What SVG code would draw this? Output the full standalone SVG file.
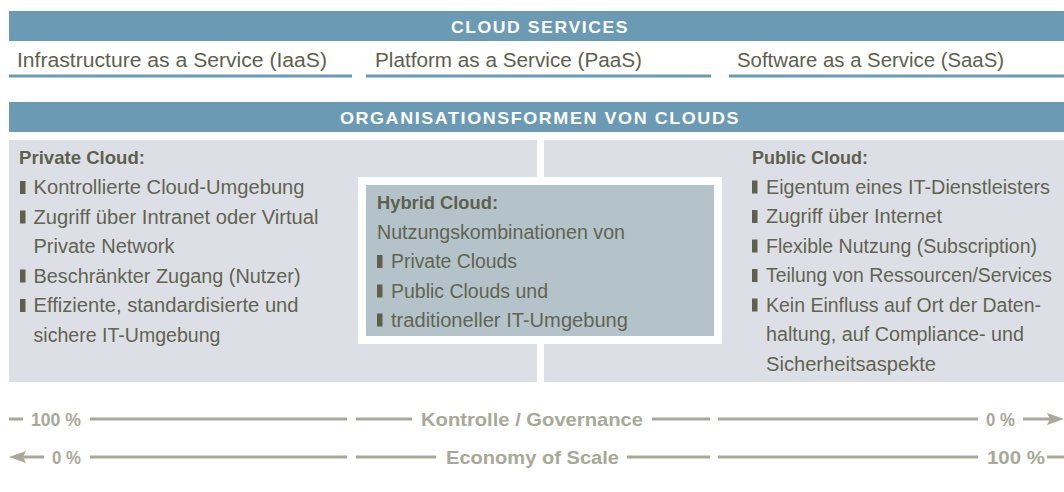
<svg xmlns="http://www.w3.org/2000/svg" width="1064" height="492" viewBox="0 0 1064 492">
<defs>
<style>
.bar{fill:#6a9ab4}
.uline{fill:#6a9ab4}
.ttl{font-family:"Liberation Sans",Arial,sans-serif;font-weight:bold;font-size:17px;fill:#ffffff;letter-spacing:1.5px}
.sub{font-family:"Liberation Sans",Arial,sans-serif;font-size:20.5px;fill:#5f604c}
.txt{font-family:"Liberation Sans",Arial,sans-serif;font-size:19.5px;fill:#626350}
.hd{font-family:"Liberation Sans",Arial,sans-serif;font-size:18.5px;font-weight:bold;fill:#5f604c}
.panel{fill:#dce0e6}
.hyb{fill:#b4c3ca;stroke:#ffffff;stroke-width:8}
.blt{fill:#5f604c}
.axl{stroke:#a8a998;stroke-width:3;fill:none}
.axt{font-family:"Liberation Sans",Arial,sans-serif;font-size:18.5px;font-weight:bold;fill:#a8a998}
.arr{fill:#a8a998}
</style>
</defs>
<rect width="1064" height="492" fill="#ffffff"/>

<g id="cloud-services">
<rect class="bar" x="9" y="11" width="1055" height="30"/>
<text class="ttl" x="540" y="33" text-anchor="middle" textLength="178" lengthAdjust="spacingAndGlyphs">CLOUD SERVICES</text>
</g>
<g id="iaas">
<text class="sub" x="17" y="67" textLength="310" lengthAdjust="spacingAndGlyphs">Infrastructure as a Service (IaaS)</text>
<rect class="uline" x="9" y="74.5" width="343" height="3"/>
</g>
<g id="paas">
<text class="sub" x="375" y="67" textLength="267" lengthAdjust="spacingAndGlyphs">Platform as a Service (PaaS)</text>
<rect class="uline" x="366" y="74.5" width="345" height="3"/>
</g>
<g id="saas">
<text class="sub" x="737" y="67" textLength="267" lengthAdjust="spacingAndGlyphs">Software as a Service (SaaS)</text>
<rect class="uline" x="729" y="74.5" width="335" height="3"/>
</g>

<g id="organisationsformen">
<rect class="bar" x="9" y="102" width="1055" height="30"/>
<text class="ttl" x="540" y="124" text-anchor="middle" textLength="400" lengthAdjust="spacingAndGlyphs">ORGANISATIONSFORMEN VON CLOUDS</text>
</g>

<g id="private-cloud">
<rect class="panel" x="9" y="140" width="528" height="242"/>
<text class="hd" x="19" y="164" textLength="126" lengthAdjust="spacingAndGlyphs">Private Cloud:</text>
<rect class="blt" x="20" y="181" width="5.5" height="13"/>
<text class="txt" x="33.5" y="194" textLength="271" lengthAdjust="spacingAndGlyphs">Kontrollierte Cloud-Umgebung</text>
<rect class="blt" x="20" y="210.5" width="5.5" height="13"/>
<text class="txt" x="33.5" y="223.5" textLength="285" lengthAdjust="spacingAndGlyphs">Zugriff über Intranet oder Virtual</text>
<text class="txt" x="33.5" y="253" textLength="141" lengthAdjust="spacingAndGlyphs">Private Network</text>
<rect class="blt" x="20" y="269.5" width="5.5" height="13"/>
<text class="txt" x="33.5" y="282.5" textLength="267" lengthAdjust="spacingAndGlyphs">Beschränkter Zugang (Nutzer)</text>
<rect class="blt" x="20" y="299" width="5.5" height="13"/>
<text class="txt" x="33.5" y="312" textLength="265" lengthAdjust="spacingAndGlyphs">Effiziente, standardisierte und</text>
<text class="txt" x="33.5" y="341.5" textLength="187" lengthAdjust="spacingAndGlyphs">sichere IT-Umgebung</text>
</g>

<g id="public-cloud">
<rect class="panel" x="544" y="140" width="520" height="242"/>
<text class="hd" x="752" y="164" textLength="116" lengthAdjust="spacingAndGlyphs">Public Cloud:</text>
<rect class="blt" x="752" y="180.5" width="5.5" height="13"/>
<text class="txt" x="766" y="193.5" textLength="284" lengthAdjust="spacingAndGlyphs">Eigentum eines IT-Dienstleisters</text>
<rect class="blt" x="752" y="210" width="5.5" height="13"/>
<text class="txt" x="766" y="223" textLength="176" lengthAdjust="spacingAndGlyphs">Zugriff über Internet</text>
<rect class="blt" x="752" y="239.5" width="5.5" height="13"/>
<text class="txt" x="766" y="252.5" textLength="271" lengthAdjust="spacingAndGlyphs">Flexible Nutzung (Subscription)</text>
<rect class="blt" x="752" y="269" width="5.5" height="13"/>
<text class="txt" x="766" y="282" textLength="286" lengthAdjust="spacingAndGlyphs">Teilung von Ressourcen/Services</text>
<rect class="blt" x="752" y="298.5" width="5.5" height="13"/>
<text class="txt" x="766" y="311.5" textLength="275" lengthAdjust="spacingAndGlyphs">Kein Einfluss auf Ort der Daten-</text>
<text class="txt" x="766" y="341" textLength="258" lengthAdjust="spacingAndGlyphs">haltung, auf Compliance- und</text>
<text class="txt" x="766" y="370.5" textLength="170" lengthAdjust="spacingAndGlyphs">Sicherheitsaspekte</text>
</g>

<g id="hybrid-cloud">
<rect class="hyb" x="362" y="181" width="356" height="159"/>
<text class="hd" x="377" y="209" textLength="121" lengthAdjust="spacingAndGlyphs">Hybrid Cloud:</text>
<text class="txt" x="377" y="239" textLength="248" lengthAdjust="spacingAndGlyphs">Nutzungskombinationen von</text>
<rect class="blt" x="377" y="255" width="5.5" height="13"/>
<text class="txt" x="391" y="268" textLength="126" lengthAdjust="spacingAndGlyphs">Private Clouds</text>
<rect class="blt" x="377" y="284.5" width="5.5" height="13"/>
<text class="txt" x="391" y="297.5" textLength="157" lengthAdjust="spacingAndGlyphs">Public Clouds und</text>
<rect class="blt" x="377" y="313.5" width="5.5" height="13"/>
<text class="txt" x="391" y="326.5" textLength="237" lengthAdjust="spacingAndGlyphs">traditioneller IT-Umgebung</text>
</g>

<g id="connectors">
<g id="axis-kontrolle">
<line class="axl" x1="9" y1="419" x2="23" y2="419"/>
<line class="axl" x1="90" y1="419" x2="347" y2="419"/>
<line class="axl" x1="356" y1="419" x2="412" y2="419"/>
<line class="axl" x1="652" y1="419" x2="710" y2="419"/>
<line class="axl" x1="718" y1="419" x2="978" y2="419"/>
<line class="axl" x1="1023" y1="419" x2="1052" y2="419"/>
<polygon class="arr" points="1064,419 1047,413 1050,419 1047,425"/>
</g>
<g id="axis-economy">
<polygon class="arr" points="9,457 26,451 23,457 26,463"/>
<line class="axl" x1="22" y1="457" x2="44" y2="457"/>
<line class="axl" x1="90" y1="457" x2="347" y2="457"/>
<line class="axl" x1="356" y1="457" x2="436" y2="457"/>
<line class="axl" x1="627" y1="457" x2="710" y2="457"/>
<line class="axl" x1="718" y1="457" x2="978" y2="457"/>
<line class="axl" x1="1047" y1="457" x2="1064" y2="457"/>
</g>
</g>

<g id="labels-axis">
<text class="axt" x="31" y="426" textLength="50" lengthAdjust="spacingAndGlyphs">100 %</text>
<text class="axt" x="421" y="426" textLength="222" lengthAdjust="spacingAndGlyphs">Kontrolle / Governance</text>
<text class="axt" x="986" y="426" textLength="29" lengthAdjust="spacingAndGlyphs">0 %</text>
<text class="axt" x="52" y="464" textLength="29" lengthAdjust="spacingAndGlyphs">0 %</text>
<text class="axt" x="446" y="464" textLength="173" lengthAdjust="spacingAndGlyphs">Economy of Scale</text>
<text class="axt" x="987" y="464" textLength="58" lengthAdjust="spacingAndGlyphs">100 %</text>
</g>
</svg>
